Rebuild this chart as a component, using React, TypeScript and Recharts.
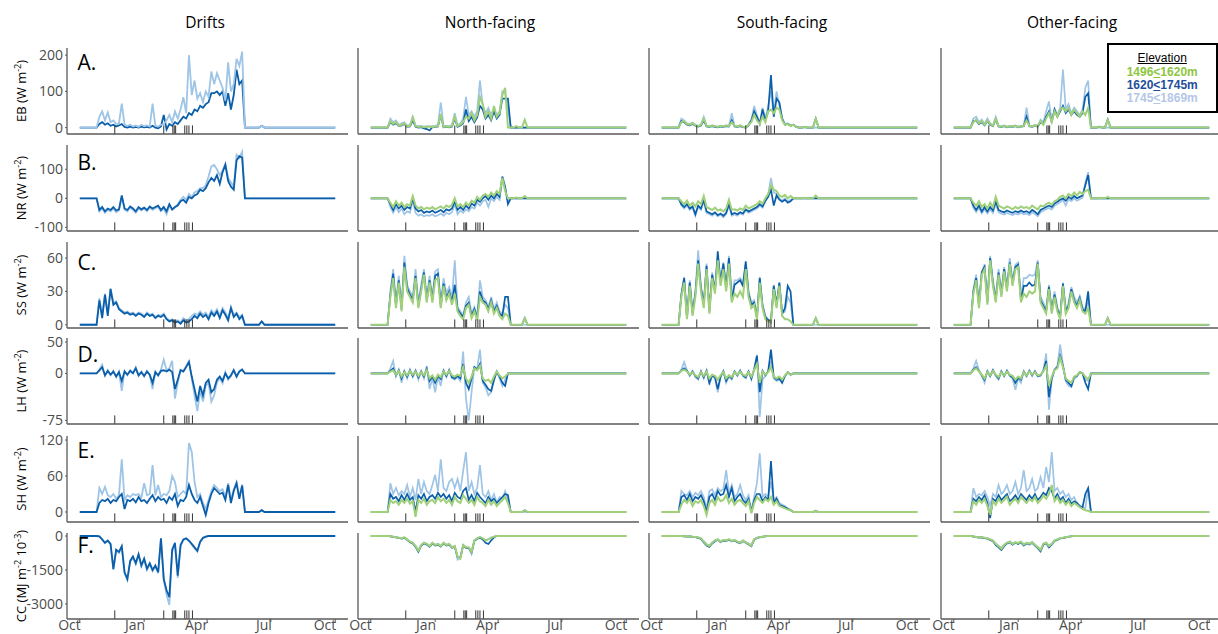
import React from "react";
import { LineChart, Line, XAxis, YAxis, ReferenceLine } from "recharts";

// ---- data: day-of-water-year grid, starts at day 24, one value every 4 days ----
const GRID_START = 24;
const GRID_STEP = 4;

const MONTH_TICKS = [0, 92, 182, 273, 365];
const MONTH_LABELS = ["Oct", "Jan", "Apr", "Jul", "Oct"];
const EVENT_DAYS = [50, 120, 133, 135, 137, 150, 153, 156, 161];

// Drifts (d = 1620-1745m, l = 1745-1869m)
const DR_EB_D = [0, 10, 15, 8, 12, 5, 8, 3, 6, 10, 2, 0, 3, 0, 2, 0, 3, 1, 2, 0, 5, 0, -2, 3, 35, -5, 10, 5, 15, 10, 20, 30, 25, 40, 35, 50, 45, 60, 55, 65, 70, 95, 95, 100, 90, 100, 60, 95, 50, 90, 160, 120, 130, 0, 0, 0, 0, 0, 0, 5];
const DR_EB_L = [0, 30, 45, 20, 42, 15, 20, 10, 12, 66, 8, 5, 8, 3, 6, 2, 8, 4, 6, 3, 66, 5, 3, 8, 10, 20, 35, 15, 45, 25, 50, 84, 40, 200, 90, 130, 80, 95, 70, 100, 85, 155, 120, 150, 130, 110, 75, 180, 100, 120, 190, 170, 210, 0, 0, 0, 0, 0, 0, 5];
const DR_NR_D = [0, -40, -30, -45, -35, -40, -30, -42, -38, 10, -35, -40, -28, -35, -45, -30, -38, -32, -40, -28, -35, -30, -25, -40, -30, -45, -20, -38, -30, -25, -10, -5, -15, 5, 0, 10, 15, 30, 25, 35, 55, 70, 60, 80, 50, 90, 115, 60, 40, 30, 130, 145, 140, 0];
const DR_NR_L = [0, -45, -35, -50, -40, -45, -35, -48, -42, 5, -40, -45, -32, -40, -50, -35, -42, -36, -44, -32, -40, -34, -30, -45, -35, -55, -25, -40, -32, -20, -5, 5, -5, 15, 5, 20, 25, 35, 35, 45, 75, 110, 115, 100, 80, 95, 120, 70, 55, 40, 150, 140, 160, 0];
const DR_SS_D = [0, 22, 6, 27, 8, 32, 18, 20, 14, 12, 10, 11, 9, 10, 8, 10, 9, 7, 10, 8, 9, 6, 8, 7, 9, 5, 3, 4, 2, 3, 1, 4, 2, 3, 5, 8, 6, 10, 7, 9, 5, 11, 8, 12, 6, 13, 9, 4, 15, 7, 10, 5, 8, 0, 0, 0, 0, 0, 0, 3];
const DR_SS_L = [0, 24, 8, 28, 10, 33, 20, 21, 15, 13, 11, 12, 10, 11, 9, 11, 10, 8, 11, 9, 10, 7, 9, 8, 10, 6, 4, 5, 3, 4, 2, 6, 4, 5, 8, 10, 9, 12, 9, 11, 7, 13, 10, 14, 8, 15, 11, 6, 16, 9, 11, 7, 9, 0, 0, 0, 0, 0, 0, 3];
const DR_LH_D = [0, 5, 10, -3, 4, -2, 3, -5, 2, -12, 3, -2, 4, 0, 8, -3, 2, -4, 3, -2, -15, 2, -3, 4, 5, 3, 6, 2, -25, -10, 5, 3, 10, 18, -5, -25, -45, -20, -35, -15, -10, -30, -25, -10, -5, -12, 0, -8, -3, 5, -5, 3, 6, 0];
const DR_LH_L = [0, 6, 14, -4, 5, -3, 4, -6, 3, -28, 4, -3, 5, 1, 10, -4, 3, -5, 4, -3, -25, 3, -4, 6, 22, 5, 8, 20, -40, -15, 6, 4, 12, 20, -8, -35, -60, -28, -45, -20, -15, -45, -35, -14, -8, -16, 2, -10, -5, 6, -6, 4, 7, 0];
const DR_SH_D = [0, 15, 20, 18, 22, 15, 20, 18, 25, 30, 5, 20, 18, 22, 16, 25, 18, 20, 15, 22, 28, 18, 25, 20, 22, 15, 25, 20, 30, 10, 20, 18, 25, 45, 30, 20, 15, 25, 10, -5, 15, 30, 40, 35, 30, 32, 20, 45, 15, 35, 48, 22, 44, 0, 0, 0, 0, 0, 0, 3];
const DR_SH_L = [0, 40, 30, 42, 28, 25, 30, 22, 28, 88, 20, 28, 25, 30, 28, 30, 24, 48, 28, 30, 78, 28, 45, 25, 30, 28, 35, 60, 50, 25, 30, 35, 30, 115, 100, 50, 25, 30, 15, 5, 20, 35, 45, 40, 35, 38, 25, 48, 20, 38, 50, 25, 46, 0, 0, 0, 0, 0, 0, 3];
const DR_CC_D = [0, -20, -150, -300, -200, -350, -1450, -600, -700, -450, -1600, -1900, -1100, -900, -1200, -800, -1300, -1000, -1450, -1200, -1500, -1300, -1600, -100, -1900, -2400, -2700, -600, -300, -1750, -400, -150, -100, -200, -350, -500, -650, -250, -80, -30, 0];
const DR_CC_L = [0, -20, -160, -320, -220, -380, -1500, -650, -750, -480, -1650, -1950, -1150, -950, -1250, -850, -1350, -1050, -1500, -1250, -1550, -1350, -1650, -120, -1950, -2600, -3050, -700, -350, -1850, -450, -180, -120, -230, -380, -550, -700, -280, -100, -40, 0];

// North-facing (g = 1496-1620m)
const N_EB_G = [0, 18, 10, 15, 5, 8, 12, 3, 5, 28, 4, 2, 3, 1, 2, 4, 2, 3, 5, 38, 2, 3, 2, 5, 30, 4, 8, 15, 30, 25, 40, 20, 35, 85, 65, 30, 45, 25, 60, 30, 40, 90, 110, 0, 0, 0, 4, 0, 0, 22];
const N_EB_D = [0, 15, 8, 12, 4, 6, 10, 2, 3, 20, 2, 0, 1, -2, -4, -8, 1, 2, 3, 35, 1, 2, 1, 3, 25, 2, 6, 12, 50, 18, 30, 15, 28, 60, 50, 25, 35, 20, 45, 25, 35, 80, 80, 80, 0];
const N_EB_L = [0, 25, 15, 20, 8, 12, 15, 5, 8, 30, 6, 4, 5, 3, 4, 2, 4, 5, 7, 70, 4, 5, 4, 7, 40, 6, 12, 25, 85, 35, 45, 30, 45, 130, 60, 40, 55, 35, 50, 35, 45, 100, 95, 50, 0];
const N_NR_G = [0, -15, -30, -10, -25, -15, -30, -20, -25, 8, -25, -35, -30, -38, -32, -36, -30, -38, -33, -28, -35, -25, -30, -22, 0, -28, -20, -30, -15, -25, -8, -15, 5, -5, 10, 15, 5, 20, 10, 25, 15, 70, 25, 0, 0, 0, 3, 0, 0, 8];
const N_NR_D = [0, -20, -40, -20, -35, -25, -40, -30, -35, 0, -35, -45, -40, -50, -45, -48, -42, -50, -45, -40, -48, -38, -42, -35, -10, -40, -30, -40, -25, -35, -18, -25, -5, -12, 0, 8, -5, 10, 0, 15, 5, 75, 40, -20, 0];
const N_NR_L = [0, -30, -50, -30, -48, -35, -55, -45, -50, -10, -50, -60, -55, -62, -58, -60, -55, -62, -58, -52, -60, -50, -55, -48, -20, -55, -42, -50, -38, -45, -30, -35, -15, -25, -10, -5, -30, 0, -10, 5, -5, 65, 30, -10, 0];
const N_SS_G = [0, 25, 42, 15, 38, 12, 52, 30, 25, 20, 42, 15, 30, 45, 20, 38, 20, 40, 42, 15, 35, 22, 28, 18, 28, 12, 8, 5, 15, 18, 6, 12, 4, 25, 20, 18, 12, 20, 10, 15, 8, 5, 10, 8, 0, 0, 0, 0, 0, 6];
const N_SS_D = [0, 27, 46, 17, 40, 14, 56, 33, 27, 22, 44, 17, 32, 47, 22, 40, 22, 44, 46, 17, 37, 24, 30, 20, 36, 14, 10, 7, 17, 20, 8, 14, 6, 30, 22, 20, 14, 22, 12, 17, 10, 8, 25, 25, 0, 0, 0, 0, 0, 6];
const N_SS_L = [0, 30, 50, 20, 44, 16, 62, 36, 30, 25, 50, 20, 36, 50, 25, 44, 25, 48, 50, 20, 42, 28, 34, 24, 58, 16, 12, 9, 20, 25, 10, 16, 8, 40, 25, 22, 16, 25, 14, 20, 12, 10, 18, 15, 0];
const N_LH_G = [0, 3, 5, -2, 4, -5, 2, -3, 4, -2, 3, -4, 2, -3, 5, -8, -3, -10, -2, -6, 3, -2, 4, -3, -5, -2, -4, 10, -8, -15, -5, 8, 5, 12, -8, -12, -10, -15, -5, 3, -3, -8, -5, 0];
const N_LH_D = [0, 4, 8, -3, 5, -8, 3, -5, 5, -4, 4, -6, 3, -5, 7, -12, -5, -15, -4, -9, 4, -4, 5, -6, -8, -4, -8, 15, -15, -25, -8, 10, 6, 15, -12, -18, -25, -28, -10, 3, -5, -15, -20, 0];
const N_LH_L = [0, 8, 20, -5, 6, -15, 4, -8, 6, -6, 5, -10, 4, -8, 12, -25, -8, -30, -6, -20, 5, -6, 6, -8, -10, -6, -12, 35, -40, -75, -30, 10, 8, 38, -15, -22, -35, -30, -12, 3, -8, -20, -10, 0];
const N_SH_G = [0, 20, 15, 18, 12, 20, 15, 22, 14, 18, -8, 20, 15, 22, 12, 18, 20, 15, 25, 18, 22, 15, 20, 12, 25, 18, 15, 28, 22, 15, 20, 12, 25, 18, 15, 10, 20, 12, 18, 10, 15, 20, 25, 15, 0, 0, 0, 0, 0, 3];
const N_SH_D = [0, 30, 22, 25, 18, 28, 20, 30, 20, 25, 0, 28, 22, 30, 18, 25, 28, 22, 32, 25, 30, 22, 28, 18, 32, 25, 22, 35, 40, 20, 28, 18, 32, 25, 20, 15, 25, 18, 22, 15, 20, 25, 30, 28, 0, 0, 0, 0, 0, 3];
const N_SH_L = [0, 48, 30, 40, 28, 35, 30, 45, 25, 40, 20, 55, 30, 50, 35, 30, 45, 62, 35, 88, 40, 35, 50, 55, 40, 55, 35, 68, 100, 35, 50, 30, 40, 78, 30, 25, 35, 20, 30, 15, 25, 20, 35, 20, 0];
const N_CC_G = [0, -10, -30, -50, -80, -100, -60, -150, -250, -300, -450, -650, -400, -300, -350, -450, -300, -400, -350, -450, -300, -400, -350, -500, -450, -900, -1000, -400, -500, -500, -700, -200, -100, -50, -100, -200, -150, -80, -30, 0];
const N_CC_D = [0, -15, -40, -60, -90, -120, -80, -170, -280, -330, -480, -700, -430, -320, -380, -480, -330, -420, -380, -470, -330, -420, -380, -520, -480, -920, -950, -420, -520, -520, -720, -220, -120, -80, -150, -300, -350, -200, -60, 0];
const N_CC_L = [0, -10, -30, -50, -70, -90, -60, -140, -240, -290, -430, -620, -390, -290, -340, -440, -290, -390, -340, -440, -290, -390, -340, -490, -440, -1050, -980, -390, -490, -550, -800, -190, -100, -50, -100, -180, -140, -70, -30, 0];

// South-facing
const S_EB_G = [0, 15, 18, 10, 8, 12, 6, 4, 8, 25, 5, 3, 6, 4, 2, 5, 3, 6, 4, 15, 5, 3, 6, 2, 0, 8, 15, 35, 20, 10, 30, 15, 45, 50, 40, 55, 50, 20, 8, 10, 5, 8, 2, 0, 0, 2, 0, 0, 0, 25];
const S_EB_D = [0, 18, 15, 8, 6, 10, 5, 3, 6, 20, 3, 2, 4, 2, 1, 3, 2, 4, 3, 20, 3, 2, 4, 1, 0, 6, 20, 45, 30, 10, 50, 20, 45, 145, 30, 80, 70, 25, 8, 10, 5, 8, 2, 0, 0, 2, 0, 0, 0, 25];
const S_EB_L = [0, 25, 20, 12, 10, 14, 8, 5, 8, 30, 5, 4, 6, 4, 3, 5, 4, 6, 5, 40, 5, 4, 6, 3, 2, 10, 22, 60, 35, 12, 55, 25, 60, 100, 35, 100, 60, 25, 10, 12, 6, 8, 3, 0];
const S_NR_G = [0, -10, -20, -8, -25, -15, -28, -10, -20, 8, -30, -35, -40, -32, -42, -38, -45, -35, -5, -40, -38, -42, -35, -40, -25, -35, -30, -25, -20, -10, -18, 0, 15, 45, 30, 25, 10, 5, 12, 0, 8, 0, 0, 0, 0, 2, 0, 0, 0, 10];
const S_NR_D = [0, -20, -30, -20, -35, -28, -55, -25, -35, -5, -45, -50, -55, -48, -58, -52, -60, -50, -20, -55, -50, -55, -48, -52, -38, -45, -40, -35, -30, -20, -28, -8, 5, 30, -25, 10, -5, -12, -5, -15, -10, 0];
const S_NR_L = [0, -25, -35, -25, -40, -32, -60, -30, -40, -10, -50, -55, -60, -52, -62, -56, -65, -55, -25, -60, -55, -60, -52, -56, -42, -50, -45, -40, -35, -25, -32, -12, 10, 70, 20, 15, 0, -8, 0, -10, -5, 0];
const S_SS_G = [0, 25, 38, 5, 35, 8, 25, 55, 30, 15, 50, 10, 42, 28, 58, 35, 50, 30, 55, 20, 28, 25, 30, 25, 50, 25, 15, 18, 5, 38, 15, 5, 3, 2, 32, 15, 35, 8, 5, 5, 3, 0, 0, 0, 0, 0, 0, 0, 0, 6];
const S_SS_D = [0, 27, 42, 6, 38, 10, 28, 58, 33, 18, 53, 12, 45, 30, 66, 38, 55, 33, 60, 22, 36, 38, 40, 35, 57, 28, 18, 20, 6, 42, 17, 7, 4, 3, 35, 18, 38, 10, 15, 35, 30, 0, 0, 0, 0, 0, 0, 0, 0, 6];
const S_SS_L = [0, 28, 43, 8, 40, 12, 30, 67, 35, 20, 55, 14, 47, 32, 60, 40, 56, 35, 62, 24, 40, 40, 42, 38, 55, 30, 20, 22, 8, 43, 18, 8, 5, 4, 36, 18, 38, 10, 12, 25, 20, 0];
const S_LH_G = [0, 4, 6, 3, -2, 2, -3, -6, 2, -4, 3, -8, -2, -4, -10, -3, 2, -8, -3, -6, 2, -2, 3, -2, -4, 2, -5, 5, 15, -15, 3, -2, 2, 10, -5, -8, -5, -10, -3, 2, -2, 0];
const S_LH_D = [0, 5, 8, 4, -3, 3, -4, -8, 3, -6, 4, -15, -3, -6, -25, -5, 3, -12, -4, -8, 3, -3, 4, -3, -6, 3, -8, 6, 28, -30, 4, -3, 3, 38, -6, -10, -8, -15, -4, 2, -2, 0];
const S_LH_L = [0, 6, 18, 5, -4, 4, -6, -10, 4, -8, 5, -18, -4, -8, -30, -6, 4, -15, -5, -10, 3, -4, 5, -4, -8, 3, -10, 8, 30, -70, -10, -4, 4, 20, -8, -12, -10, -12, -5, 2, -2, 0];
const S_SH_G = [0, 12, 20, 15, 22, 10, 18, 15, 20, 10, -5, 15, 20, 12, 25, 18, 20, 28, 15, 22, 12, 18, 20, 15, 10, 18, -2, 15, 25, 20, 15, 22, 18, 25, 12, 18, 10, 8, 6, 4, 3, 0, 0, 0, 0, 0, 0, 0, 0, 2];
const S_SH_D = [0, 25, 28, 20, 30, 18, 25, 22, 28, 18, 0, 25, 30, 20, 35, 28, 30, 45, 25, 40, 18, 25, 30, 20, 15, 22, 0, 20, 30, 30, 18, 25, 20, 85, 15, 22, 12, 10, 8, 5, 3, 0, 0, 0, 0, 0, 0, 0, 0, 2];
const S_SH_L = [0, 35, 30, 28, 35, 25, 32, 28, 35, 25, 5, 35, 38, 28, 40, 35, 38, 70, 32, 45, 25, 30, 45, 28, 20, 28, 2, 25, 48, 98, 25, 30, 25, 50, 20, 25, 15, 12, 10, 6, 4, 0];
const S_CC_G = [0, -5, -10, -20, -15, -30, -40, -60, -100, -250, -380, -440, -300, -200, -150, -250, -180, -200, -150, -220, -180, -250, -300, -200, -280, -350, -420, -150, -80, -50, -30, -10, 0];
const S_CC_D = [0, -8, -15, -25, -20, -40, -50, -80, -130, -280, -420, -480, -330, -230, -170, -270, -200, -220, -170, -240, -200, -270, -320, -220, -300, -370, -450, -170, -90, -60, -35, -12, 0];
const S_CC_L = [0, -5, -10, -18, -15, -28, -35, -55, -90, -230, -350, -420, -280, -190, -140, -230, -170, -190, -140, -210, -170, -240, -280, -190, -260, -330, -400, -140, -70, -45, -25, -8, 0];

// Other-facing
const O_EB_G = [0, 15, 22, 12, 18, 8, 20, 10, 5, 25, 4, 3, 5, 2, 4, 3, 5, 2, 4, 5, 20, 5, 3, 6, 4, 18, 8, 25, 40, 15, 45, 30, 50, 55, 45, 55, 35, 50, 40, 30, 45, 35, 55, 0, 0, 0, 3, 0, 0, 22];
const O_EB_D = [0, 18, 20, 10, 15, 6, 18, 8, 4, 22, 3, 2, 4, 1, 3, 2, 4, 1, 3, 4, 30, 4, 2, 5, 3, 15, 10, 30, 45, 15, 50, 30, 45, 60, 40, 50, 35, 45, 35, 30, 40, 85, 95, 0, 0, 0, 3, 0, 0, 22];
const O_EB_L = [0, 25, 30, 15, 22, 10, 25, 12, 6, 30, 5, 4, 6, 3, 5, 4, 6, 3, 5, 6, 55, 6, 4, 8, 5, 22, 15, 45, 72, 20, 52, 35, 55, 160, 50, 65, 40, 55, 45, 35, 50, 110, 130, 0];
const O_NR_G = [0, -15, -25, -10, -30, -20, -35, -15, -30, 5, -25, -30, -35, -28, -32, -38, -30, -35, -28, -33, -30, -36, -25, -32, -38, -25, -28, -20, -15, -22, -10, -5, 5, 10, 0, 15, 8, 20, 10, 22, 15, 25, 30, 0, 0, 0, 2, 0, 0, 5];
const O_NR_D = [0, -25, -40, -25, -45, -30, -45, -30, -42, -10, -40, -45, -48, -42, -46, -50, -44, -48, -42, -47, -44, -50, -40, -46, -55, -40, -35, -30, -25, -30, -18, -12, -5, 0, -8, 5, -2, 8, 0, 5, 10, 45, 80, 0];
const O_NR_L = [0, -33, -48, -33, -52, -38, -52, -38, -50, -18, -48, -53, -56, -50, -54, -58, -52, -56, -50, -55, -52, -58, -48, -54, -62, -48, -43, -38, -33, -38, -26, -20, -13, -5, -25, -3, -10, 0, -8, -3, 2, 55, 90, 0];
const O_SS_G = [0, 28, 40, 15, 45, 50, 18, 58, 35, 20, 45, 25, 48, 30, 55, 35, 50, 52, 20, 28, 25, 30, 28, 30, 55, 20, 15, 10, 32, 10, 25, 12, 5, 35, 10, 15, 30, 20, 15, 22, 12, 10, 15, 0, 0, 0, 0, 0, 0, 6];
const O_SS_D = [0, 30, 42, 17, 47, 52, 20, 60, 37, 22, 47, 27, 50, 32, 56, 37, 52, 54, 22, 35, 35, 38, 35, 36, 56, 22, 17, 12, 34, 12, 27, 14, 7, 37, 12, 17, 32, 22, 17, 24, 14, 12, 30, 0, 0, 0, 0, 0, 0, 6];
const O_SS_L = [0, 32, 45, 20, 48, 54, 22, 62, 40, 25, 50, 30, 52, 35, 60, 40, 54, 56, 25, 42, 42, 45, 44, 45, 58, 25, 20, 14, 36, 14, 30, 16, 8, 38, 14, 20, 34, 25, 20, 26, 16, 14, 20, 0];
const O_LH_G = [0, 5, 8, 3, -2, -8, 2, -3, 4, -2, -6, 2, -3, 3, -2, -4, -10, -5, -8, 2, -3, 3, -2, 2, -3, -2, 3, 12, -20, -5, 5, 8, 25, 10, -8, -12, -15, -5, -3, 2, 0, -5, -10, 0];
const O_LH_D = [0, 6, 10, 4, -3, -10, 3, -4, 5, -3, -8, 3, -4, 4, -3, -6, -15, -7, -10, 3, -4, 4, -3, 3, -4, -3, 4, 20, -38, -8, 6, 10, 28, 12, -10, -15, -20, -6, -4, 2, 0, -15, -25, 0];
const O_LH_L = [0, 8, 20, 5, -4, -15, 4, -5, 6, -4, -10, 4, -5, 5, -4, -8, -26, -9, -15, 3, -5, 5, -4, 4, -5, -4, 5, 32, -58, -10, 6, 12, 46, 14, -13, -20, -22, -8, -5, 2, 0, -10, -12, 0];
const O_SH_G = [0, 18, 12, 20, 15, 22, 10, -5, 18, 12, 22, 15, 20, 25, 12, 18, 22, 15, 25, 20, 15, 22, 18, 25, 15, 20, 28, 22, 30, 45, 18, 25, 15, 20, 12, 18, 10, 15, 12, 8, 5, 3, 2, 0];
const O_SH_D = [0, 22, 18, 25, 20, 28, 15, -10, 22, 18, 28, 20, 25, 30, 18, 22, 28, 20, 30, 25, 20, 28, 22, 30, 20, 25, 32, 28, 40, 35, 22, 30, 20, 25, 15, 22, 14, 18, 15, 10, 8, 30, 40, 0];
const O_SH_L = [0, 40, 25, 30, 28, 35, 25, 10, 30, 25, 45, 30, 35, 45, 30, 35, 50, 30, 40, 70, 35, 40, 55, 35, 40, 58, 40, 75, 50, 100, 35, 40, 30, 35, 25, 30, 20, 25, 15, 10, 8, 6, 40, 0];
const O_CC_G = [0, -20, -40, -60, -50, -80, -100, -150, -200, -350, -450, -560, -400, -300, -250, -350, -280, -320, -250, -380, -300, -350, -280, -400, -500, -620, -350, -300, -450, -350, -200, -150, -100, -80, -50, -30, -10, 0];
const O_CC_D = [0, -25, -50, -70, -60, -100, -120, -180, -230, -400, -500, -620, -450, -330, -280, -380, -300, -350, -280, -420, -330, -380, -300, -430, -540, -680, -380, -320, -500, -380, -220, -170, -110, -90, -60, -35, -12, 0];
const O_CC_L = [0, -18, -35, -55, -45, -75, -90, -140, -190, -330, -430, -530, -380, -290, -240, -330, -270, -300, -240, -360, -290, -330, -270, -380, -480, -600, -330, -290, -430, -330, -190, -140, -90, -70, -45, -25, -8, 0];

type SeriesSet = { g?: number[]; d: number[]; l: number[] };

const PANELS: SeriesSet[][] = [
  [
    { d: DR_EB_D, l: DR_EB_L },
    { d: DR_NR_D, l: DR_NR_L },
    { d: DR_SS_D, l: DR_SS_L },
    { d: DR_LH_D, l: DR_LH_L },
    { d: DR_SH_D, l: DR_SH_L },
    { d: DR_CC_D, l: DR_CC_L },
  ],
  [
    { g: N_EB_G, d: N_EB_D, l: N_EB_L },
    { g: N_NR_G, d: N_NR_D, l: N_NR_L },
    { g: N_SS_G, d: N_SS_D, l: N_SS_L },
    { g: N_LH_G, d: N_LH_D, l: N_LH_L },
    { g: N_SH_G, d: N_SH_D, l: N_SH_L },
    { g: N_CC_G, d: N_CC_D, l: N_CC_L },
  ],
  [
    { g: S_EB_G, d: S_EB_D, l: S_EB_L },
    { g: S_NR_G, d: S_NR_D, l: S_NR_L },
    { g: S_SS_G, d: S_SS_D, l: S_SS_L },
    { g: S_LH_G, d: S_LH_D, l: S_LH_L },
    { g: S_SH_G, d: S_SH_D, l: S_SH_L },
    { g: S_CC_G, d: S_CC_D, l: S_CC_L },
  ],
  [
    { g: O_EB_G, d: O_EB_D, l: O_EB_L },
    { g: O_NR_G, d: O_NR_D, l: O_NR_L },
    { g: O_SS_G, d: O_SS_D, l: O_SS_L },
    { g: O_LH_G, d: O_LH_D, l: O_LH_L },
    { g: O_SH_G, d: O_SH_D, l: O_SH_L },
    { g: O_CC_G, d: O_CC_D, l: O_CC_L },
  ],
];

const COLUMN_TITLES = ["Drifts", "North-facing", "South-facing", "Other-facing"];
const ROW_VARS = ["EB", "NR", "SS", "LH", "SH", "CC"];
const ROW_LETTERS = ["A.", "B.", "C.", "D.", "E.", "F."];
const LEGEND_LABELS = [
  ["1496", "1620m"],
  ["1620", "1745m"],
  ["1745", "1869m"],
];
const Y_DOMAINS = [
  [-17.6, 219.8],
  [-112.5, 183.6],
  [-2.9, 74.4],
  [-80.7, 56.5],
  [-16.7, 126.7],
  [-3666, 133],
];
const Y_TICKS = [
  [0, 100, 200],
  [-100, 0, 100],
  [0, 30, 60],
  [-75, 0, 50],
  [0, 60, 120],
  [-3000, -1500, 0],
];

// ---- layout / style ----
const GREEN = "#a0d07a";
const DARK = "#0a5eaa";
const LIGHT = "#9ec4e6";
const AXIS = "#5a5a5a";
const TICK_TEXT = "#4d4d4d";
const FONT = "'Open Sans', 'DejaVu Sans', sans-serif";
const LEGEND_FONT = "'Liberation Sans', Arial, sans-serif";
const COLORS: Record<string, string> = { g: GREEN, d: DARK, l: LIGHT };
const WIDTHS: Record<string, number> = { g: 2, d: 1.7, l: 1.7 };
const LEGEND_COLORS = ["#8dc63f", "#1f4e9b", "#b4c7e7"];

const X_DOMAIN = [-18.25, 383.25];
const ROW_TOPS = [48, 145, 242, 338, 436, 533];
const COL_LEFTS = [67, 357.5, 649.3, 941];
const TITLE_X = [205, 490, 782, 1072];
const LETTER_Y = [70, 170, 270, 362, 458, 553];
const PLOT_W = 281;
const PLOT_H = 86;
// generous margins so tick labels near the plot edge are not clipped
const MT = 10;
const MR = 10;
const MB = 10;
const ML = 30;

function buildRows(set: SeriesSet) {
  const keys = (["g", "d", "l"] as const).filter((k) => set[k]);
  const n = Math.max(...keys.map((k) => set[k]!.length)) + 1;
  const zero = (day: number) => {
    const r: Record<string, number> = { day };
    keys.forEach((k) => (r[k] = 0));
    return r;
  };
  const rows = [zero(0)];
  for (let i = 0; i < n; i++) {
    const r: Record<string, number> = { day: GRID_START + GRID_STEP * i };
    keys.forEach((k) => (r[k] = set[k]![i] ?? 0));
    rows.push(r);
  }
  rows.push(zero(365));
  return rows;
}

const MonthTick = (p: any) => (
  <text
    x={p.x + 1}
    y={p.y - 2}
    dy="0.71em"
    textAnchor="end"
    fontSize={14}
    fill={TICK_TEXT}
    fontFamily={FONT}
  >
    {MONTH_LABELS[p.index]}
  </text>
);

function Panel({ row, col }: { row: number; col: number }) {
  const set = PANELS[col][row];
  const data = buildRows(set);
  const [lo, hi] = Y_DOMAINS[row];
  const tickTop = lo + (hi - lo) * 0.1;
  const yw = col === 0 ? 44 : 1;
  const xh = row === 5 ? 22 : 1;
  const width = ML + yw + PLOT_W + MR;
  const height = MT + PLOT_H + xh + MB;
  const order =
    col === 0 ? (row === 0 ? ["d", "l"] : ["l", "d"]) : ["l", "d", "g"];

  return (
    <div
      style={{
        position: "absolute",
        left: COL_LEFTS[col] - yw - ML,
        top: ROW_TOPS[row] - MT,
      }}
    >
      <LineChart
        width={width}
        height={height}
        data={data}
        margin={{ top: MT, right: MR, bottom: MB, left: ML }}
      >
        <XAxis
          dataKey="day"
          type="number"
          domain={X_DOMAIN}
          ticks={MONTH_TICKS}
          allowDataOverflow
          interval={0}
          height={xh}
          axisLine={{ stroke: AXIS, strokeWidth: 1.3 }}
          tickLine={row === 5 ? { stroke: AXIS } : false}
          tickSize={3}
          tickMargin={0}
          tick={row === 5 ? MonthTick : false}
        />
        <YAxis
          type="number"
          domain={[lo, hi]}
          ticks={Y_TICKS[row]}
          allowDataOverflow
          interval={0}
          width={yw}
          axisLine={{ stroke: AXIS, strokeWidth: 1.3 }}
          tickLine={col === 0 ? { stroke: AXIS } : false}
          tickSize={2}
          tickMargin={2}
          tick={
            col === 0
              ? { fontSize: 14, fill: TICK_TEXT, fontFamily: FONT }
              : false
          }
        />
        {order.map((k) => (
          <Line
            key={k}
            dataKey={k}
            type="linear"
            stroke={COLORS[k]}
            strokeWidth={col === 0 ? 1.8 : WIDTHS[k]}
            dot={false}
            activeDot={false}
            isAnimationActive={false}
          />
        ))}
        {EVENT_DAYS.map((d) => (
          <ReferenceLine
            key={d}
            segment={[
              { x: d, y: lo },
              { x: d, y: tickTop },
            ]}
            stroke="#333"
            strokeWidth={1}
          />
        ))}
      </LineChart>
    </div>
  );
}

function YLabel({ row }: { row: number }) {
  const cy = ROW_TOPS[row] + PLOT_H / 2;
  const name = ROW_VARS[row];
  return (
    <text
      transform={`translate(26, ${cy}) rotate(-90)`}
      textAnchor="middle"
      fontSize={13}
      fill="#000"
      fontFamily={FONT}
    >
      {name === "CC" ? (
        <>
          CC (MJ m
          <tspan dy={-5} fontSize={9}>
            -2
          </tspan>
          <tspan dy={5}> 10</tspan>
          <tspan dy={-5} fontSize={9}>
            -3
          </tspan>
          <tspan dy={5}>)</tspan>
        </>
      ) : (
        <>
          {name} (W m
          <tspan dy={-5} fontSize={9}>
            -2
          </tspan>
          <tspan dy={5}>)</tspan>
        </>
      )}
    </text>
  );
}

export default function App() {
  const rows = [0, 1, 2, 3, 4, 5];
  const cols = [0, 1, 2, 3];
  return (
    <div
      style={{
        position: "absolute",
        left: 0,
        top: 0,
        width: 1218,
        height: 634,
        overflow: "hidden",
        background: "#fff",
        fontFamily: FONT,
      }}
    >
      {cols.map((c) =>
        rows.map((r) => <Panel key={`${c}-${r}`} row={r} col={c} />)
      )}
      <svg
        width={1218}
        height={634}
        style={{ position: "absolute", left: 0, top: 0, pointerEvents: "none" }}
      >
        {COLUMN_TITLES.map((t, i) => (
          <text
            key={t}
            x={TITLE_X[i]}
            y={28}
            textAnchor="middle"
            fontSize={15.5}
            fill="#000"
            fontFamily={FONT}
          >
            {t}
          </text>
        ))}
        {rows.map((r) => (
          <YLabel key={r} row={r} />
        ))}
        {ROW_LETTERS.map((l, i) => (
          <text
            key={l}
            x={77.5}
            y={LETTER_Y[i]}
            fontSize={21}
            fill="#000"
            fontFamily={FONT}
          >
            {l}
          </text>
        ))}
      </svg>
      <div
        style={{
          position: "absolute",
          left: 1106.7,
          top: 42.7,
          width: 111,
          height: 70,
          boxSizing: "border-box",
          border: "2px solid #000",
          background: "#fff",
          paddingTop: 7.5,
          textAlign: "center",
          lineHeight: "13.4px",
          fontFamily: LEGEND_FONT,
        }}
      >
        <div style={{ fontSize: 12, color: "#000", textDecoration: "underline" }}>
          Elevation
        </div>
        {LEGEND_LABELS.map((t, i) => (
          <div
            key={t[0]}
            style={{ fontSize: 12, fontWeight: 700, color: LEGEND_COLORS[i] }}
          >
            {t[0]}
            <u>&lt;</u>
            {t[1]}
          </div>
        ))}
      </div>
    </div>
  );
}
